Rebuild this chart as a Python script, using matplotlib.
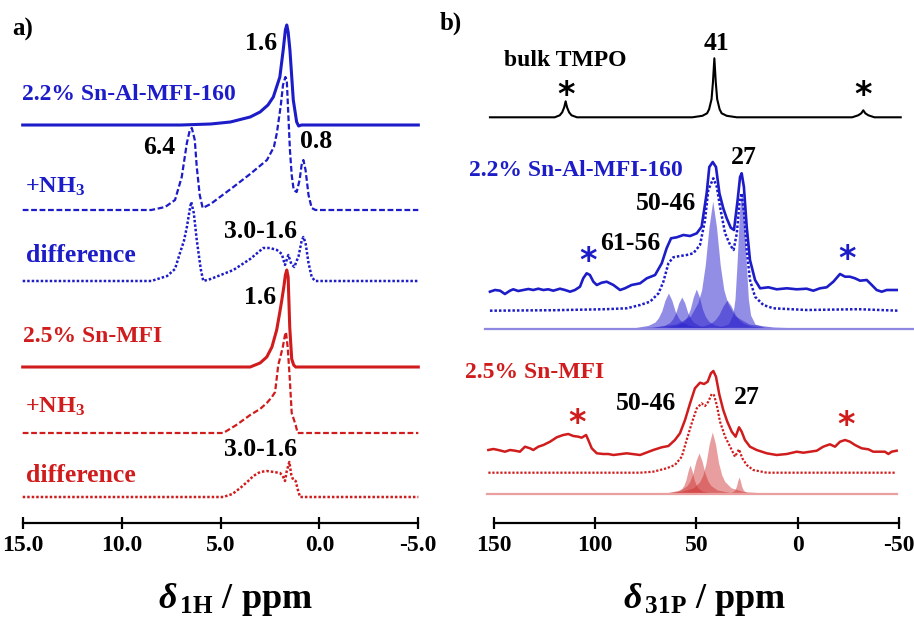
import numpy as np
import matplotlib
matplotlib.use("Agg")
import matplotlib.pyplot as plt

plt.rcParams['font.family'] = ['Liberation Serif', 'DejaVu Serif']
plt.rcParams['font.weight'] = 'bold'
plt.rcParams['mathtext.fontset'] = 'custom'
plt.rcParams['mathtext.rm'] = 'Liberation Serif:bold'
plt.rcParams['mathtext.it'] = 'Liberation Serif:italic:bold'
plt.rcParams['mathtext.bf'] = 'Liberation Serif:bold'

BLUE = '#1c1cc8'
RED = '#d01c1c'

# ---------------- panel a: 1H spectra (ppm, intensity) ----------------
a_blue_ppm = [15, 7, 5.5, 4.5, 3.5, 3.0, 2.6, 2.33, 2.0, 1.83, 1.72, 1.65, 1.58, 1.49,
              1.32, 1.15, 1.05, 0.9, 0.5, -5]
a_blue_int = [0, 0, 1, 3, 8, 13, 20, 28, 48, 75, 95, 100, 93, 75, 25, 3, -1, 0, 0, 0]

a_blue_nh3_ppm = [15, 8.5, 7.8, 7.3, 6.96, 6.7, 6.55, 6.45, 6.3, 6.2, 6.05, 5.9, 5.5, 4.35,
                  3.5, 2.65, 2.3, 2.15, 1.95, 1.84, 1.72, 1.65, 1.57, 1.49, 1.4, 1.3, 1.15,
                  1.0, 0.9, 0.81, 0.7, 0.55, 0.39, 0.2, -5]
a_blue_nh3_int = [0, 0, 3, 10, 33, 67, 80, 82, 70, 43, 15, 2, 6, 23, 36, 50, 63, 77, 105,
                  125, 133, 130, 95, 60, 35, 20, 18, 30, 45, 50, 40, 15, 2, 0, 0]

a_blue_diff_ppm = [15, 8.5, 7.7, 7.3, 7.05, 6.85, 6.7, 6.55, 6.48, 6.35, 6.2, 6.0, 5.87,
                   5.5, 4.35, 3.5, 2.84, 2.5, 2.15, 1.9, 1.74, 1.57, 1.42, 1.27, 1.05, 0.9,
                   0.81, 0.7, 0.55, 0.39, 0.22, -5]
a_blue_diff_int = [0, 0, 5, 12, 28, 40, 54, 72, 79, 68, 41, 12, 0, 2, 11, 22, 33, 33, 31,
                   27, 16, 26, 17, 14, 25, 40, 44, 38, 18, 4, 0, 0]

a_red_ppm = [15, 4.5, 3.5, 3.0, 2.66, 2.4, 2.16, 2.0, 1.9, 1.8, 1.72, 1.65, 1.58, 1.5,
             1.4, 1.3, 1.2, -5]
a_red_int = [0, 0, 0, 4, 10, 20, 37, 55, 67, 80, 92, 97, 90, 40, 8, 2, 0, 0]

a_red_nh3_ppm = [15, 4.86, 4.2, 3.5, 3.0, 2.66, 2.4, 2.24, 2.08, 1.95, 1.85, 1.75, 1.69,
                 1.6, 1.5, 1.4, 1.3, 1.2, 1.1, 1.0, -5]
a_red_nh3_int = [0, 0, 8, 18, 24, 30, 36, 41, 68, 78, 86, 97, 101, 85, 55, 20, 14, 8, 0,
                 0, 0]

a_red_diff_ppm = [15, 4.86, 4.4, 4.0, 3.6, 3.34, 3.0, 2.66, 2.3, 1.99, 1.85, 1.74, 1.65,
                  1.52, 1.42, 1.32, 1.2, 1.1, 0.98, -5]
a_red_diff_int = [0, 0, 3, 9, 16, 21, 25, 26, 25, 24, 21, 16, 26, 35, 22, 17, 16, 8, 0, 0]

a_ticks = [15, 10, 5, 0, -5]
a_ticklabels = ['15.0', '10.0', '5.0', '0.0', '-5.0']

# ---------------- panel b: 31P spectra ----------------
b_bulk_ppm = [152, 130, 120, 117.5, 116.3, 115.3, 114.6, 113.9, 112.9, 111.7, 109, 90,
              60, 52, 47, 44.7, 43.7, 42.5, 41.8, 41.1, 40.4, 39.7, 38.5, 37.5, 35, 30,
              10, -20, -27, -30, -31.5, -32.5, -33.5, -35, -38, -51]
b_bulk_int = [0, 0, 0, 2, 5, 10, 16, 10, 5, 2, 0, 0, 0, 0, 1.5, 4, 8, 18, 35, 59, 35, 18,
              8, 4, 1.5, 0, 0, 0, 0, 2, 4, 7, 4, 2, 0, 0]

b_blue_ppm = [152.0, 149.5, 147.0, 144.6, 142.1, 140.5, 138.0, 135.5, 133.0, 130.6, 128.1,
              125.6, 123.2, 120.7, 117.4, 114.9, 112.4, 110.0, 107.5, 105.9, 104.2, 102.6,
              100.9, 99.2, 96.8, 94.3, 91.0, 87.7, 85.3, 82.0, 77.8, 74.5, 70.4, 67.1,
              64.7, 62.5, 59.7, 56.4, 53.1, 49.8, 47.4, 44.9, 43.6, 41.9, 40.3, 38.6, 36.7,
              35.0, 33.0, 31.4, 29.6, 28.4, 27.6, 26.5, 25.1, 23.5, 21.0, 18.5, 14.4, 10.3,
              5.3, 0.4, -4.5, -7.8, -11.1, -14.4, -17.7, -21.0, -23.5, -25.9, -28.4,
              -30.9, -34.2, -36.7, -39.1, -41.6, -44.1, -47.3, -49.0]
b_blue_int = [-1.7, 0, -0.7, -4, -0.7, 0.7, -1, 0, 1, 0, 1.3, 0, 0.7, -0.7, 1.3, 0, -1.7,
              0, 3.3, 11.7, 16.7, 15, 8.3, 5, 7.3, 8.3, 5, 0, 1.7, 5, 6.7, 11.7, 15, 26.7,
              41.7, 51.7, 52.7, 55, 54, 56.7, 63.3, 96.7, 123, 128, 123, 96.7, 81.7, 71.7,
              62.3, 60, 90, 113, 116.7, 103, 63, 30, 10, 1.7, 2.7, 0.7, 1.7, 0.7, 1.3,
              -0.7, 1.7, 2.7, 8.3, 16, 13.3, 13.3, 11.7, 9.3, 10, 5, 0, -1.7, 0, 0, 0]

b_blue_fit_ppm = [152, 120, 95, 84.4, 77.8, 72.9, 68.7, 66.3, 63.8, 61.4, 58.1, 54.8, 51.5,
                  48.2, 45.7, 44.1, 41.6, 39.9, 38.3, 35.8, 33.3, 31.6, 30.0, 28.7, 27.6,
                  26.4, 25.1, 23.5, 21.0, 16.9, 12.0, -4.5, -30, -50]
b_blue_fit_int = [0, 0.5, 1.5, 2.4, 5.7, 9, 17.4, 29, 47.4, 53.4, 54.7, 55.7, 57.4, 65.7,
                  90.7, 120.7, 132.4, 124, 104, 77.4, 65.7, 60.7, 77.4, 107.4, 117.4, 97.4,
                  60.7, 30.7, 14, 5.7, 2.4, 0.7, 1.5, 0]

# deconvolution components, 2.2% Sn-Al-MFI-160
b_blue_comp_ppm = [
    [91.9, 71.9, 59.9, 52.9, 49.3, 47.4, 45.6, 43.75, 41.9, 40.05, 38.2, 36.4, 34.5, 30.9,
     23.9, 11.9, -8.1],
    [52.6, 38.6, 34.2, 32.0, 30.9, 29.8, 28.7, 27.6, 26.5, 25.4, 24.3, 23.2, 21.0, 16.6,
     2.6],
    [93.8, 80.3, 73.8, 70.4, 68.8, 67.1, 65.45, 63.8, 62.15, 60.5, 58.8, 57.2, 53.8, 47.3,
     33.8],
    [84.2, 72.2, 66.2, 63.2, 61.7, 60.2, 58.7, 57.2, 55.7, 54.2, 52.7, 51.2, 48.2, 42.2,
     30.2],
    [77, 65, 59, 56, 54.5, 53, 51.5, 50, 48.5, 47, 45.5, 44, 41, 35, 23],
    [70.8, 54.8, 46.8, 42.8, 40.8, 38.8, 36.8, 34.8, 32.8, 30.8, 28.8, 26.8, 22.8, 14.8,
     -1.2],
]
b_blue_comp_int = [
    [0.5, 2, 5, 13, 26, 39, 64, 102, 128, 102, 64, 39, 26, 13, 5, 2, 0.5],
    [0.6, 2, 5, 14, 30, 69, 117, 137, 117, 69, 30, 14, 5, 2, 0.6],
    [0.4, 1.4, 3.6, 7, 11, 18, 29, 36, 29, 18, 11, 7, 3.6, 1.4, 0.4],
    [0.4, 1.2, 3.2, 6.4, 10, 16, 26, 32, 26, 16, 10, 6.4, 3.2, 1.2, 0.4],
    [0.5, 1.5, 4, 8, 12.5, 20, 32, 40, 32, 20, 12.5, 8, 4, 1.5, 0.5],
    [0.4, 1.1, 2.9, 5.8, 9, 14.5, 23, 29, 23, 14.5, 9, 5.8, 2.9, 1.1, 0.4],
]

b_red_ppm = [152.8, 150.3, 147.9, 144.6, 142.1, 139.6, 137.2, 134.7, 132.2, 130.6, 128.1,
             125.6, 122.3, 119.0, 115.8, 113.3, 110.8, 108.3, 106.7, 104.5, 103.4, 101.7,
             99.2, 96.0, 93.5, 91.0, 84.4, 77.8, 71.3, 67.1, 63.8, 60.6, 58.1, 55.6, 53.1,
             50.7, 48.2, 46.2, 44.4, 42.8, 41.6, 40.3, 38.6, 36.7, 34.7, 32.5, 30.6, 28.9,
             27.6, 26.0, 23.5, 20.2, 15.2, 10.3, 5.3, 0.4, -2.9, -6.2, -9.5, -12.7, -16.0,
             -18.5, -21.0, -23.5, -25.9, -28.4, -31.7, -35.0, -37.4, -40.8, -43.2, -44.9,
             -46.5, -49.0]
b_red_int = [1.7, 2.7, 1.7, 0, 1.7, 1, 0, 5, 3.4, 1.7, 5, 6.7, 10, 14.4, 16.7, 17.7, 15.7,
             15, 14, 16.7, 11.7, 3.4, -1.6, -2.3, -2.3, -3.3, -1.6, -3.3, 1.7, 4.4, 5.7,
             11.7, 18.4, 31.7, 48.4, 63.4, 69, 67.7, 70, 78.4, 80.7, 75, 56.7, 41.7, 30,
             20, 15, 24.4, 20, 11.7, 5, 1.7, -1.6, -3.3, -2.3, 0, -1, 0, 1, 5, 7.4, 5, 10,
             11.7, 10, 6.7, 3.4, 2.4, 0, 0, 0, -2.3, 0, 1]

b_red_fit_ppm = [152.8, 120, 90, 77.8, 71.3, 64.7, 60.6, 57.2, 54.8, 52.3, 49.8, 47.4,
                 45.7, 44.1, 42.4, 41.3, 39.9, 38.3, 35.8, 33.3, 30.9, 28.9, 27.3, 25.1,
                 21.9, 15.2, -48.2]
b_red_fit_int = [0, 0, 0, 0, 1, 4.4, 7.7, 16, 32.7, 49.4, 64.4, 69.4, 66.7, 71, 78.7,
                 77.7, 67.7, 51, 36, 26, 16, 23.4, 14.4, 7.7, 2.7, 0, 0]

# deconvolution components, 2.5% Sn-MFI
b_red_comp_ppm = [
    [70.1, 57.6, 51.4, 48.3, 46.75, 45.2, 43.65, 42.1, 40.55, 39.0, 37.45, 35.9, 32.8,
     26.6, 14.1],
    [75.7, 63.7, 57.7, 54.7, 53.2, 51.7, 50.2, 48.7, 47.2, 45.7, 44.2, 42.7, 39.7, 33.7,
     21.7],
    [71.1, 63.1, 59.1, 57.1, 56.1, 55.1, 54.1, 53.1, 52.1, 51.1, 50.1, 49.1, 47.1, 43.1,
     35.1],
    [39.7, 34.9, 32.5, 31.3, 30.7, 30.1, 29.5, 28.9, 28.3, 27.7, 27.1, 26.5, 25.3, 22.9,
     18.1],
]
b_red_comp_int = [
    [0.75, 2.4, 6.2, 12.4, 19, 31, 50, 62, 50, 31, 19, 12.4, 6.2, 2.4, 0.75],
    [0.5, 1.6, 4.1, 8.2, 12.6, 20.5, 33, 41, 33, 20.5, 12.6, 8.2, 4.1, 1.6, 0.5],
    [0.35, 1.1, 2.9, 5.8, 9, 14.5, 23, 29, 23, 14.5, 9, 5.8, 2.9, 1.1, 0.35],
    [0.2, 0.7, 1.7, 3.4, 5.2, 8.5, 13.6, 17, 13.6, 8.5, 5.2, 3.4, 1.7, 0.7, 0.2],
]

b_ticks = [150, 100, 50, 0, -50]
b_ticklabels = ['150', '100', '50', '0', '-50']

# ---------------- figure ----------------
W, H = 914, 617
fig = plt.figure(figsize=(W / 100, H / 100), dpi=100)

def make_axes(x0, x1, spine_y):
    ax = fig.add_axes([x0 / W, (H - spine_y) / H, (x1 - x0) / W, spine_y / H])
    ax.set_ylim(0, spine_y)
    for s in ['top', 'right', 'left']:
        ax.spines[s].set_visible(False)
    ax.spines['bottom'].set_linewidth(1.6)
    ax.set_yticks([])
    ax.tick_params(axis='x', direction='inout', length=9, width=1.6, pad=4,
                   labelsize=17)
    ax.patch.set_alpha(0)
    return ax

axa = make_axes(22.7, 418.3, 523)
axa.set_xlim(15, -5)
axa.set_xticks(a_ticks)
axa.set_xticklabels(a_ticklabels, fontweight='bold')

DASH = (0, (2.6, 1.2))
DOT = (0, (1, 0.8))

def trace(ax, ppm, inten, base, color, ls='-', lw=1.8):
    ax.plot(ppm, base + np.asarray(inten), color=color, ls=ls, lw=lw, clip_on=False)

trace(axa, a_blue_ppm, a_blue_int, 398, BLUE, lw=2.2)
trace(axa, a_blue_nh3_ppm, a_blue_nh3_int, 313, BLUE, ls=DASH, lw=1.6)
trace(axa, a_blue_diff_ppm, a_blue_diff_int, 242, BLUE, ls=DOT, lw=1.8)
trace(axa, a_red_ppm, a_red_int, 156, RED, lw=2.2)
trace(axa, a_red_nh3_ppm, a_red_nh3_int, 90, RED, ls=DASH, lw=1.6)
trace(axa, a_red_diff_ppm, a_red_diff_int, 26, RED, ls=DOT, lw=1.8)

def lab(ax, x, y, s, color='black', size=18.5, ha='center', family=None):
    ax.text(x, y, s, color=color, fontsize=size, fontweight='bold', ha=ha,
            va='center', clip_on=False, family=family)

def star(ax, x, y, color='black'):
    lab(ax, x, y, '*', color, 24, family='DejaVu Sans')

lab(axa, 15.55, 494, 'a)', ha='left', size=18)
lab(axa, 2.95, 480, '1.6')
lab(axa, 15.05, 428, '2.2% Sn-Al-MFI-160', BLUE, 17, ha='left')
lab(axa, 8.11, 376, '6.4')
lab(axa, 0.17, 381, '0.8')
lab(axa, 14.88, 336, r'+NH$_{\mathbf{3}}$', BLUE, 17.5, ha='left')
lab(axa, 14.83, 267, 'difference', BLUE, 18.5, ha='left')
lab(axa, 2.99, 292, '3.0-1.6')
lab(axa, 3.0, 225, '1.6')
lab(axa, 14.98, 186, '2.5% Sn-MFI', RED, 17, ha='left')
lab(axa, 14.88, 116, r'+NH$_{\mathbf{3}}$', RED, 17.5, ha='left')
lab(axa, 14.83, 48, 'difference', RED, 18.5, ha='left')
lab(axa, 2.99, 74, '3.0-1.6')
lab(axa, 4.27, -77, r'$\mathit{\delta}_{\,\mathbf{1H}}$ / ppm', size=26)

axb = make_axes(494, 898.7, 523)
axb.set_xlim(150, -50)
axb.set_xticks(b_ticks)
axb.set_xticklabels(b_ticklabels, fontweight='bold')

BFILL = (0.16, 0.12, 0.80)
RFILL = (0.80, 0.16, 0.16)

trace(axb, b_bulk_ppm, b_bulk_int, 405.7, 'black', lw=1.5)
trace(axb, b_blue_ppm, b_blue_int, 233, BLUE, lw=1.9)
trace(axb, b_blue_fit_ppm, b_blue_fit_int, 212.3, BLUE, ls=DOT, lw=1.8)
axb.plot([154.4, -57], [194, 194], color='#8e88e2', lw=1.6, clip_on=False)
for p, v in zip(b_blue_comp_ppm, b_blue_comp_int):
    axb.fill_between(p, 194, 194 + np.asarray(v), color=BFILL, alpha=0.5, lw=0,
                     clip_on=False)

trace(axb, b_red_ppm, b_red_int, 71.3, RED, lw=1.8)
trace(axb, b_red_fit_ppm, b_red_fit_int, 50.3, RED, ls=DOT, lw=1.6)
axb.plot([153.6, -49], [29, 29], color='#eba0a0', lw=1.6, clip_on=False)
for p, v in zip(b_red_comp_ppm, b_red_comp_int):
    axb.fill_between(p, 29, 29 + np.asarray(v), color=RFILL, alpha=0.45, lw=0,
                     clip_on=False)

lab(axb, 176.7, 500, 'b)', ha='left', size=18)
lab(axb, 114.9, 463, 'bulk TMPO', size=17)
lab(axb, 39.8, 480, '41')
star(axb, 114.6, 428)
star(axb, -32.2, 427)
lab(axb, 109.5, 353, '2.2% Sn-Al-MFI-160', BLUE, 17)
lab(axb, 26.5, 366, '27')
lab(axb, 65, 319, '50-46')
lab(axb, 82.8, 280, '61-56')
star(axb, 103.7, 262, BLUE)
star(axb, -24.3, 264, BLUE)
lab(axb, 130.2, 150, '2.5% Sn-MFI', RED, 17)
lab(axb, 74.9, 120, '50-46')
lab(axb, 25, 125, '27')
star(axb, 109.1, 100, RED)
star(axb, -24, 97, RED)
lab(axb, 45.7, -77, r'$\mathit{\delta}_{\,\mathbf{31P}}$ / ppm', size=26)

fig.savefig('out.png', dpi=100)
